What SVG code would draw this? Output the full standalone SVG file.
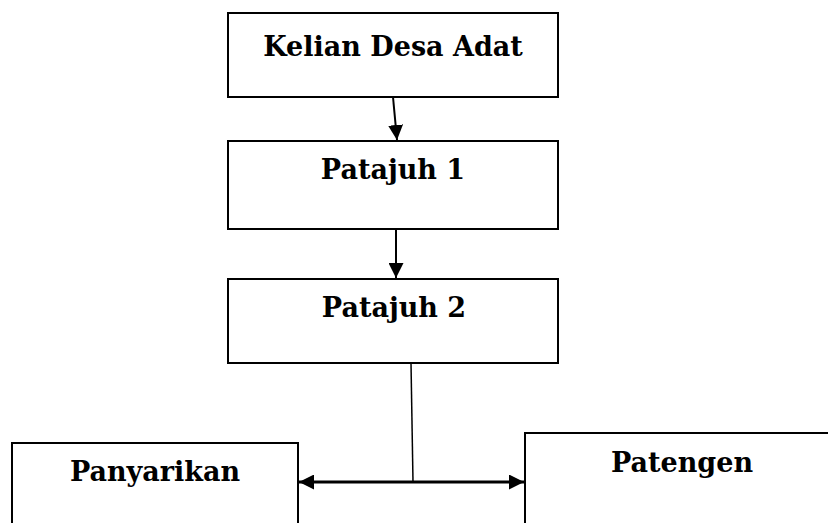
<svg xmlns="http://www.w3.org/2000/svg" width="828" height="523" viewBox="0 0 828 523">
<defs>
<style>
.box{fill:#fff;stroke:#000;stroke-width:2}
.lbl{font-family:"DejaVu Serif","Liberation Serif",serif;font-weight:bold;font-size:27px;fill:#000;text-anchor:middle}
.con{stroke:#000;stroke-width:2;fill:none}
</style>
<marker id="ah" viewBox="0 0 10 10" refX="10" refY="5" markerWidth="15" markerHeight="15" orient="auto-start-reverse" markerUnits="userSpaceOnUse">
<path d="M0,0 L10,5 L0,10 z" fill="#000"/>
</marker>
</defs>
<rect width="828" height="523" fill="#fff"/>
<g id="kelian">
<rect class="box" x="228" y="13" width="330" height="84"/>
<text class="lbl" x="393" y="56">Kelian Desa Adat</text>
</g>
<g id="patajuh1">
<rect class="box" x="228" y="141" width="330" height="88"/>
<text class="lbl" x="393" y="179">Patajuh 1</text>
</g>
<g id="patajuh2">
<rect class="box" x="228" y="279" width="330" height="84"/>
<text class="lbl" x="394" y="317">Patajuh 2</text>
</g>
<g id="panyarikan">
<rect class="box" x="12" y="443" width="286" height="100"/>
<text class="lbl" x="155" y="481">Panyarikan</text>
</g>
<g id="patengen">
<rect class="box" x="525" y="433" width="320" height="110"/>
<text class="lbl" x="682" y="472">Patengen</text>
</g>
<g id="connectors">
<line class="con" x1="393" y1="97" x2="397" y2="140" marker-end="url(#ah)"/>
<line class="con" x1="396" y1="229" x2="396" y2="278" marker-end="url(#ah)"/>
<line class="con" x1="411" y1="363" x2="413" y2="482" style="stroke-width:1.5"/>
<line class="con" x1="299" y1="482" x2="524" y2="482" marker-start="url(#ah)" marker-end="url(#ah)" style="stroke-width:3"/>
</g>
</svg>
